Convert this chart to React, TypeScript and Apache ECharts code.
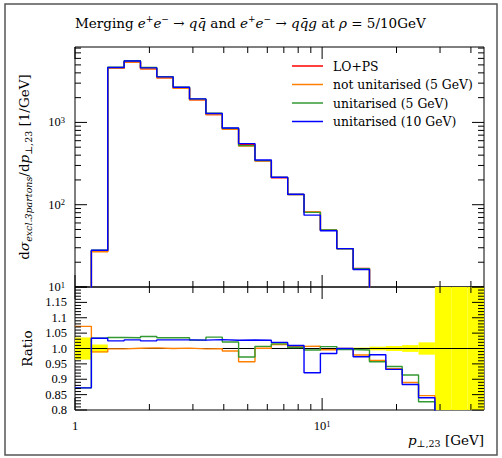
import { useEffect, useRef } from "react";
import * as echarts from "echarts";

// bin edges of p_perp,23 [GeV] (log-uniform binning)
const binEdges = [
  1, 1.1648, 1.3568, 1.5804, 1.8408, 2.1429, 2.496, 2.9074, 3.3866, 3.9446,
  4.592, 5.3489, 6.2302, 7.2544, 8.4486, 9.84, 11.463, 13.35, 15.546, 18.105,
  21.086, 24.557, 28.6, 33.31, 38.8, 45.19,
];

// dσ/dp values per bin (1/GeV)
const loPs = [2.5, 27.1, 4537, 5428, 4488, 3482, 2597, 1879, 1247, 832.5, 538, 340.8, 211.8, 132.7, 81.1, 49.1, 29.3, 16.75, 9.3, 5.3, 2.9, 1.5];
const notUnit5 = [2.68, 26.8, 4532, 5433, 4497, 3482, 2600, 1877, 1246, 825.8, 514.9, 341.1, 214.6, 133.6, 81.7, 48.9, 29.3, 16.4, 8.94, 4.95, 2.58, 1.27];
const unit5 = [2.18, 28.0, 4700, 5618, 4663, 3604, 2688, 1930, 1293, 850, 523, 343.2, 215, 133.1, 80.7, 49.4, 29.2, 16.67, 8.9, 4.99, 2.65, 1.24];
const unit10 = [2.18, 28.0, 4650, 5580, 4600, 3580, 2670, 1930, 1283, 855, 553, 350, 216, 134, 74.7, 48.3, 29.3, 16.3, 9.11, 4.94, 2.56, 1.26];

// relative uncertainty of the reference (LO+PS) per bin; 1 = no reference entry
const refErr = [0.036, 0.013, 0.001, 0.001, 0.001, 0.001, 0.001, 0.001, 0.001, 0.001, 0.001, 0.001, 0.001, 0.001, 0.001, 0.001, 0.0015, 0.003, 0.006, 0.008, 0.011, 0.02, 1, 1, 1];

const seriesNames = ["LO+PS", "not unitarised (5 GeV)", "unitarised (5 GeV)", "unitarised (10 GeV)"];
const seriesColors = ["#ff0000", "#ff8000", "#339933", "#0000ff"];

// axis ticks (in data units)
const xMajorTicks = [1, 10];
const xMinorTicks = [2, 3, 4, 5, 6, 7, 8, 9, 20, 30, 40];
const yMainMajorTicks = [10, 100, 1000];
const yMainMinorMult = [2, 3, 4, 5, 6, 7, 8, 9];
const ratioMajorTicks = [0.8, 0.85, 0.9, 0.95, 1.0, 1.05, 1.1, 1.15, 1.2];

const X_MIN = 1;
const X_MAX = 45.19;
const Y_MAIN_MIN = 10;
const Y_MAIN_MAX = 8250;
const R_MIN = 0.8;
const R_MAX = 1.2;

const FONT = "DejaVu Serif";
const NUMFONT = "Liberation Serif";
const FS = 13.5;
const LEGFS = 12.4;

const lg = (v: number) => Math.log10(v);

function stepData(vals: number[]) {
  const d: number[][] = vals.map((v, k) => [lg(binEdges[k]), lg(v)]);
  d.push([lg(binEdges[vals.length]), lg(vals[vals.length - 1])]);
  return d;
}

function ratioData(vals: number[]) {
  const d: number[][] = vals.map((v, k) => [lg(binEdges[k]), v / loPs[k]]);
  d.push([lg(binEdges[vals.length]), 0.5]);
  return d;
}

function tickRender(params: any, api: any) {
  const cs = params.coordSys;
  const major = api.value(2);
  const kind = api.value(3);
  const p = api.coord([api.value(0), api.value(1)]);
  const len = major ? 12 : 6;
  const style = { stroke: "#000", lineWidth: 1, fill: null };
  if (kind === 0) {
    return {
      type: "group",
      children: [
        { type: "line", shape: { x1: p[0], y1: cs.y, x2: p[0], y2: cs.y + len }, style },
        { type: "line", shape: { x1: p[0], y1: cs.y + cs.height, x2: p[0], y2: cs.y + cs.height - len }, style },
      ],
    };
  }
  return {
    type: "group",
    children: [
      { type: "line", shape: { x1: cs.x, y1: p[1], x2: cs.x + len, y2: p[1] }, style },
      { type: "line", shape: { x1: cs.x + cs.width, y1: p[1], x2: cs.x + cs.width - len, y2: p[1] }, style },
    ],
  };
}

const powLabel = (v: number) => {
  const n = Math.round(v);
  if (Math.abs(v - n) > 1e-6) return "";
  if (n === 0) return "{b|1}";
  return "{b|10}{s|" + n + "}";
};

export default function App() {
  const ref = useRef<HTMLDivElement>(null);
  useEffect(() => {
    if (!ref.current) return;
    const chart = echarts.init(ref.current, undefined, { renderer: "svg" });

    const mainTicks: number[][] = [];
    xMajorTicks.forEach((v) => mainTicks.push([lg(v), 2, 1, 0]));
    xMinorTicks.forEach((v) => mainTicks.push([lg(v), 2, 0, 0]));
    yMainMajorTicks.forEach((dec) => {
      mainTicks.push([0.3, lg(dec), 1, 1]);
      yMainMinorMult.forEach((m) => {
        if (dec * m < Y_MAIN_MAX) mainTicks.push([0.3, lg(dec * m), 0, 1]);
      });
    });

    const ratioTicks: number[][] = [];
    xMajorTicks.forEach((v) => ratioTicks.push([lg(v), 1, 1, 0]));
    xMinorTicks.forEach((v) => ratioTicks.push([lg(v), 1, 0, 0]));
    ratioMajorTicks.forEach((v) => ratioTicks.push([0.3, v, 1, 1]));
    for (let i = 0; i <= 40; i++) {
      const v = Math.round((0.8 + i * 0.01) * 1000) / 1000;
      if (i % 5 !== 0) ratioTicks.push([0.3, v, 0, 1]);
    }

    const bandData = refErr.map((e, k) => [lg(binEdges[k]), 1, lg(binEdges[k + 1]), e]);

    const mainVals = [loPs, notUnit5, unit5, unit10];
    const supRich = {
      b: { fontFamily: NUMFONT, fontSize: 12.5, color: "#000", lineHeight: 14 },
      s: { fontFamily: NUMFONT, fontSize: 8.5, color: "#000", lineHeight: 8, verticalAlign: "top" },
    };

    const option: any = {
      animation: false,
      backgroundColor: "#fff",
      title: {
        text: "Merging {i|e}{sup|+}{i|e}{sup|−} → {i|qq̄} and {i|e}{sup|+}{i|e}{sup|−} → {i|qq̄g} at {i|ρ} = 5/10GeV",
        left: 75,
        top: 14,
        padding: 0,
        textStyle: {
          fontFamily: FONT,
          fontSize: FS,
          fontWeight: "normal",
          color: "#000",
          lineHeight: 17,
          rich: {
            i: { fontFamily: FONT, fontSize: FS, fontStyle: "italic", color: "#000", lineHeight: 17 },
            sup: { fontFamily: FONT, fontSize: 9, color: "#000", lineHeight: 9, verticalAlign: "top" },
          },
        },
      },
      legend: {
        data: seriesNames,
        orient: "vertical",
        left: 292,
        top: 58,
        icon: "rect",
        itemWidth: 31,
        itemHeight: 1.5,
        itemGap: 2.5,
        padding: 0,
        textStyle: { fontFamily: FONT, fontSize: LEGFS, color: "#000", lineHeight: 16, padding: [0, 0, 0, 5] },
      },
      graphic: [
        {
          type: "rect",
          shape: { x: 5, y: 4, width: 492, height: 451 },
          style: { fill: null, stroke: "#555", lineWidth: 1.5 },
          silent: true,
        },
        {
          type: "text",
          x: 484,
          y: 440,
          silent: true,
          style: {
            text: "{i|p}{sub|⊥,23} [GeV]",
            align: "right",
            verticalAlign: "middle",
            fontFamily: FONT,
            fontSize: FS,
            fill: "#000",
            lineHeight: 17,
            rich: {
              i: { fontFamily: FONT, fontSize: FS, fontStyle: "italic", fill: "#000", lineHeight: 17 },
              sub: { fontFamily: FONT, fontSize: 9.5, fill: "#000", lineHeight: 10, verticalAlign: "bottom" },
            },
          },
        },
      ],
      grid: [
        { left: 75, top: 47, width: 409, height: 240, show: true, borderColor: "#000", borderWidth: 1, backgroundColor: "transparent" },
        { left: 75, top: 287, width: 409, height: 123, show: true, borderColor: "#000", borderWidth: 1, backgroundColor: "transparent" },
      ],
      xAxis: [
        {
          type: "value",
          gridIndex: 0,
          min: lg(X_MIN),
          max: lg(X_MAX),
          interval: 1,
          axisLine: { show: false },
          axisTick: { show: false },
          axisLabel: { show: false },
          splitLine: { show: false },
        },
        {
          type: "value",
          gridIndex: 1,
          min: lg(X_MIN),
          max: lg(X_MAX),
          interval: 1,
          axisLine: { show: false },
          axisTick: { show: false },
          splitLine: { show: false },
          axisLabel: {
            margin: 9,
            formatter: powLabel,
            rich: supRich,
          },
        },
      ],
      yAxis: [
        {
          type: "value",
          gridIndex: 0,
          min: lg(Y_MAIN_MIN),
          max: lg(Y_MAIN_MAX),
          interval: 1,
          axisLine: { show: false },
          axisTick: { show: false },
          splitLine: { show: false },
          axisLabel: {
            margin: 10,
            formatter: powLabel,
            rich: supRich,
          },
          name: "d{i|σ}{subi|excl.3partons}/d{i|p}{sub|⊥,23} [1/GeV]",
          nameLocation: "middle",
          nameGap: 42,
          nameTextStyle: {
            fontFamily: FONT,
            fontSize: FS,
            color: "#000",
            lineHeight: 18,
            rich: {
              i: { fontFamily: FONT, fontSize: FS, fontStyle: "italic", color: "#000", lineHeight: 18 },
              subi: { fontFamily: FONT, fontSize: 9.5, fontStyle: "italic", color: "#000", lineHeight: 10, verticalAlign: "bottom" },
              sub: { fontFamily: FONT, fontSize: 9.5, color: "#000", lineHeight: 10, verticalAlign: "bottom" },
            },
          },
        },
        {
          type: "value",
          gridIndex: 1,
          min: R_MIN,
          max: R_MAX,
          interval: 0.05,
          axisLine: { show: false },
          axisTick: { show: false },
          splitLine: { show: false },
          axisLabel: {
            margin: 8,
            fontFamily: NUMFONT,
            fontSize: 12.5,
            color: "#000",
            formatter: (v: number) => {
              if (v > 1.19) return "";
              if (Math.abs(v - 1) < 1e-9) return "1.0";
              return String(Math.round(v * 100) / 100);
            },
          },
          name: "Ratio",
          nameLocation: "middle",
          nameGap: 40,
          nameTextStyle: { fontFamily: FONT, fontSize: FS, color: "#000" },
        },
      ],
      series: [
        ...mainVals.map((vals, i) => ({
          name: seriesNames[i],
          type: "line",
          xAxisIndex: 0,
          yAxisIndex: 0,
          step: "end",
          showSymbol: false,
          symbol: "none",
          color: seriesColors[i],
          lineStyle: { width: 1.4, color: seriesColors[i] },
          data: stepData(vals),
          z: 3,
        })),
        {
          type: "custom",
          name: "refBand",
          xAxisIndex: 1,
          yAxisIndex: 1,
          z: 1,
          data: bandData,
          renderItem: (params: any, api: any) => {
            const e = api.value(3);
            const top = Math.min(1 + e, R_MAX);
            const bot = Math.max(1 - e, R_MIN);
            const p1 = api.coord([api.value(0), top]);
            const p2 = api.coord([api.value(2), bot]);
            return {
              type: "rect",
              shape: { x: p1[0], y: p1[1], width: p2[0] - p1[0], height: p2[1] - p1[1] },
              style: { fill: "#ffff00", stroke: null },
            };
          },
        },
        {
          type: "line",
          name: "unity",
          xAxisIndex: 1,
          yAxisIndex: 1,
          showSymbol: false,
          symbol: "none",
          lineStyle: { width: 1, color: "#000" },
          data: [[lg(X_MIN), 1], [lg(X_MAX), 1]],
          z: 2,
        },
        ...[notUnit5, unit5, unit10].map((vals, i) => ({
          name: seriesNames[i + 1] + " ratio",
          type: "line",
          xAxisIndex: 1,
          yAxisIndex: 1,
          step: "end",
          showSymbol: false,
          symbol: "none",
          lineStyle: { width: 1.4, color: seriesColors[i + 1] },
          data: ratioData(vals),
          z: 3,
        })),
        {
          type: "custom",
          name: "ticksMain",
          xAxisIndex: 0,
          yAxisIndex: 0,
          z: 10,
          silent: true,
          data: mainTicks,
          renderItem: tickRender,
        },
        {
          type: "custom",
          name: "ticksRatio",
          xAxisIndex: 1,
          yAxisIndex: 1,
          z: 10,
          silent: true,
          data: ratioTicks,
          renderItem: tickRender,
        },
      ],
    };
    chart.setOption(option);
    return () => chart.dispose();
  }, []);
  return <div ref={ref} style={{ position: "absolute", left: 0, top: 0, width: 502, height: 458 }} />;
}
